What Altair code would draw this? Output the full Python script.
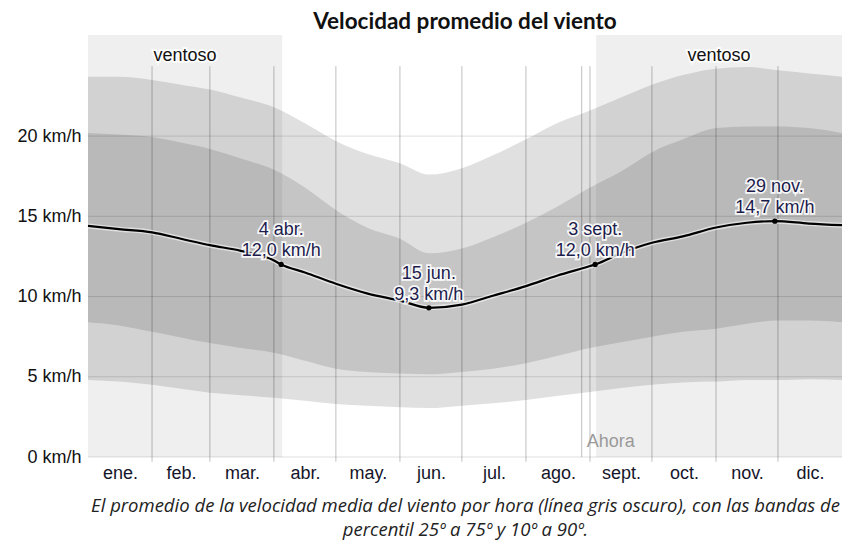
import altair as alt
import pandas as pd

# ---------------- data ----------------
months = ["ene.", "feb.", "mar.", "abr.", "may.", "jun.",
          "jul.", "ago.", "sept.", "oct.", "nov.", "dic."]
month_starts = [0, 31, 59, 90, 120, 151, 181, 212, 243, 273, 304, 334, 365]

band_days = [0, 15, 31, 45, 59, 74, 90, 105, 120, 135, 151, 165, 181,
             196, 212, 227, 243, 258, 273, 288, 304, 319, 334, 349, 365]
p10 = [4.8, 4.7, 4.5, 4.25, 4.0, 3.85, 3.7, 3.5, 3.3, 3.2, 3.1, 3.05, 3.2,
       3.35, 3.55, 3.8, 4.05, 4.3, 4.5, 4.65, 4.7, 4.8, 4.8, 4.85, 4.8]
p25 = [8.4, 8.2, 7.8, 7.45, 7.1, 6.8, 6.5, 6.0, 5.5, 5.3, 5.2, 5.15, 5.3,
       5.5, 5.85, 6.3, 6.8, 7.15, 7.5, 7.8, 8.0, 8.3, 8.5, 8.5, 8.4]
p75 = [20.2, 20.1, 19.95, 19.6, 19.2, 18.6, 17.9, 16.8, 15.4, 14.3, 13.6, 12.7, 13.0,
       13.7, 14.6, 15.6, 16.8, 17.8, 19.0, 19.8, 20.5, 20.6, 20.6, 20.5, 20.2]
p90 = [23.7, 23.7, 23.5, 23.2, 22.9, 22.4, 21.8, 20.8, 19.7, 18.9, 18.3, 17.6, 18.0,
       18.8, 19.8, 20.8, 21.6, 22.4, 23.2, 23.8, 24.2, 24.3, 24.1, 23.9, 23.7]

mean_days = [0, 15, 31, 45, 59, 74, 90, 93.5, 105, 120, 135, 151, 165, 181,
             196, 212, 227, 243, 245.5, 258, 273, 288, 304, 319, 332.5, 349, 365]
mean_vals = [14.4, 14.2, 14.0, 13.6, 13.2, 12.85, 12.25, 12.0, 11.5, 10.8, 10.2, 9.75, 9.3, 9.5,
             10.05, 10.65, 11.3, 11.9, 12.0, 12.7, 13.35, 13.75, 14.3, 14.6, 14.7, 14.55, 14.45]

ann_days = [93.5, 165, 245.5, 332.5]
ann_dates = ["4 abr.", "15 jun.", "3 sept.", "29 nov."]
ann_vals = [12.0, 9.3, 12.0, 14.7]

windy_start = [0, 246]
windy_end = [94, 365]
windy_text = "ventoso"
now_day = 239
now_text = "Ahora"

y_ticks = [0, 5, 10, 15, 20]
Y_MAX = 26.3
GRID_TOP = 24.36

title_text = "Velocidad promedio del viento"
caption = ["El promedio de la velocidad media del viento por hora (línea gris oscuro), con las bandas de",
           "percentil 25º a 75º y 10º a 90º."]

# ---------------- tables ----------------
bands = pd.DataFrame({"day": band_days, "p10": p10, "p25": p25, "p75": p75, "p90": p90})
mean_df = pd.DataFrame({"day": mean_days, "v": mean_vals})
ann = pd.DataFrame({"day": ann_days, "v": ann_vals, "date": ann_dates,
                    "val": [f"{v:.1f}".replace(".", ",") + " km/h" for v in ann_vals]})
windy = pd.DataFrame({"start": windy_start, "end": windy_end,
                      "mid": [(a + b) / 2 for a, b in zip(windy_start, windy_end)],
                      "lo": [0, 0], "hi": [Y_MAX, Y_MAX], "ty": [24.7, 24.7],
                      "t": [windy_text, windy_text]})
mids = [(month_starts[i] + month_starts[i + 1]) / 2 for i in range(12)]
vlines = pd.DataFrame({"day": month_starts[1:-1] + [now_day],
                       "top": [GRID_TOP] * 12, "bot": [-0.3] * 11 + [0]})
hlines = pd.DataFrame({"v": y_ticks})
now_df = pd.DataFrame({"day": [now_day], "v": [0.62], "t": [now_text]})

label_map = "{" + ",".join(f"'{m:g}':'{n}'" for m, n in zip(mids, months)) + "}"

xscale = alt.Scale(domain=[0, 365], nice=False, zero=False)
yscale = alt.Scale(domain=[0, Y_MAX], nice=False)

LABEL_FONT = "Liberation Sans"

x_axis = alt.Axis(values=mids, labelExpr=f"{label_map}[datum.value + ''] || ''",
                  ticks=False, domain=False, grid=False, labelPadding=7,
                  labelOverlap=False, labelBound=False,
                  labelFont=LABEL_FONT, labelFontSize=18, labelColor="#15152a",
                  title=caption, titleFont="Open Sans", titleFontSize=18.5,
                  titleFontStyle="italic", titleFontWeight="normal", titleColor="#222",
                  titleBaseline="alphabetic", titleY=54, titleX=377,
                  titleAlign="center", titleLineHeight=24)
y_axis = alt.Axis(values=y_ticks, labelExpr="datum.value + ' km/h'",
                  ticks=False, domain=False, grid=False, labelPadding=7,
                  labelOverlap=False,
                  labelFont=LABEL_FONT, labelFontSize=18, labelColor="#111", title=None)

windy_rect = alt.Chart(windy).mark_rect(color="#efefef").encode(
    x=alt.X("start:Q", scale=xscale, axis=x_axis),
    x2="end:Q",
    y=alt.Y("lo:Q", scale=yscale, axis=y_axis),
    y2="hi:Q",
)

band_outer = alt.Chart(bands).mark_area(color="black", opacity=0.122, interpolate="monotone").encode(
    x=alt.X("day:Q", scale=xscale), y=alt.Y("p10:Q", scale=yscale), y2="p90:Q")
band_inner = alt.Chart(bands).mark_area(color="black", opacity=0.116, interpolate="monotone").encode(
    x=alt.X("day:Q", scale=xscale), y=alt.Y("p25:Q", scale=yscale), y2="p75:Q")

hgrid = alt.Chart(hlines).mark_rule(color="black", opacity=0.13, strokeWidth=1).encode(
    y=alt.Y("v:Q", scale=yscale))
vgrid = alt.Chart(vlines).mark_rule(color="black", opacity=0.25, strokeWidth=1).encode(
    x=alt.X("day:Q", scale=xscale), y=alt.Y("top:Q", scale=yscale), y2="bot:Q")

line_halo = alt.Chart(mean_df).mark_line(color="white", strokeWidth=5, opacity=0.55,
                                         interpolate="monotone").encode(
    x=alt.X("day:Q", scale=xscale), y=alt.Y("v:Q", scale=yscale))
line = alt.Chart(mean_df).mark_line(color="black", strokeWidth=2.2, interpolate="monotone").encode(
    x=alt.X("day:Q", scale=xscale), y=alt.Y("v:Q", scale=yscale))
pts = alt.Chart(ann).mark_circle(color="black", size=28, opacity=1).encode(
    x=alt.X("day:Q", scale=xscale), y=alt.Y("v:Q", scale=yscale))

ANN_COLOR = "#1c1c4c"


def txt(df, dy, color, halo, **kw):
    base = dict(font=LABEL_FONT, fontSize=18, baseline="alphabetic", align="center", dy=dy)
    base.update(kw)
    if halo:
        return alt.Chart(df).mark_text(color="white", stroke="white", strokeWidth=3.5,
                                       strokeOpacity=0.9, **base)
    return alt.Chart(df).mark_text(color=color, **base)


ann_layers = []
for field, dy in [("date", -29), ("val", -8)]:
    for halo in (True, False):
        ann_layers.append(txt(ann, dy, ANN_COLOR, halo).encode(
            x=alt.X("day:Q", scale=xscale), y=alt.Y("v:Q", scale=yscale), text=f"{field}:N"))

windy_layers = []
for halo in (True, False):
    windy_layers.append(txt(windy, 0, "#111", halo).encode(
        x=alt.X("mid:Q", scale=xscale), y=alt.Y("ty:Q", scale=yscale), text="t:N"))

now_label = alt.Chart(now_df).mark_text(color="#9a9a9a", font=LABEL_FONT, fontSize=18,
                                        baseline="alphabetic", align="left", dx=5).encode(
    x=alt.X("day:Q", scale=xscale), y=alt.Y("v:Q", scale=yscale), text="t:N")

chart = alt.layer(
    windy_rect, band_outer, band_inner, hgrid, vgrid, line_halo, line, pts,
    *ann_layers, *windy_layers, now_label
).properties(
    width=754, height=422,
    padding={"left": 80, "top": 27, "right": 0, "bottom": 83},
    autosize=alt.AutoSizeParams(type="none"),
    title=alt.TitleParams(text=title_text, font="Lato", fontSize=22.5, fontWeight="bold",
                          color="#111", anchor="middle", offset=2),
).configure_view(strokeWidth=0)

chart.save("out.html", embed_options={"renderer": "svg", "actions": False})
